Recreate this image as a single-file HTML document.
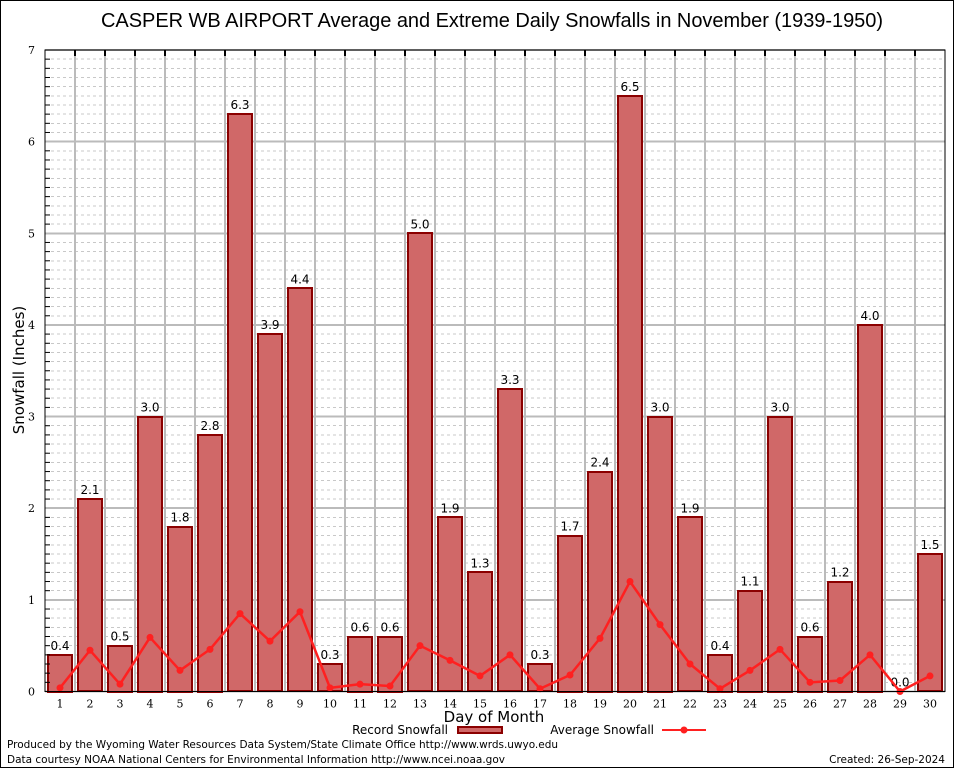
<!DOCTYPE html>
<html><head><meta charset="utf-8"><style>
body{margin:0;background:#fff}
svg text{font-family:"DejaVu Sans","Liberation Sans",sans-serif}
</style></head><body>
<svg id="c" width="954" height="768" xmlns="http://www.w3.org/2000/svg">
<rect x="0.5" y="0.5" width="953" height="767" fill="#fff" stroke="#000"/>
<text x="492" y="27" font-size="20" text-anchor="middle" textLength="782" style="font-family:'Liberation Sans',sans-serif">CASPER WB AIRPORT Average and Extreme Daily Snowfalls in November (1939-1950)</text>
<g id="grid" shape-rendering="crispEdges"></g>
<g id="bars"></g>
<g id="line"></g>
<rect x="45" y="50" width="900" height="641.5" fill="none" stroke="#000"/>
<g id="axes"></g>
<text x="24" y="370" font-size="15" text-anchor="middle" transform="rotate(-90 24 370)">Snowfall (Inches)</text>
<text x="494" y="722" font-size="15" text-anchor="middle">Day of Month</text>
<g>
<text x="448" y="734" font-size="12" text-anchor="end">Record Snowfall</text>
<rect x="458" y="727" width="44" height="6" fill="#d06868" stroke="#8b0000" stroke-width="2"/>
<text x="654" y="734" font-size="12" text-anchor="end">Average Snowfall</text>
<line x1="662" y1="730" x2="706" y2="730" stroke="#ff2020" stroke-width="2"/>
<circle cx="684" cy="730" r="3.5" fill="#ff2020"/>
</g>
<text x="7" y="748" font-size="10.5" textLength="551">Produced by the Wyoming Water Resources Data System/State Climate Office http://www.wrds.uwyo.edu</text>
<text x="7" y="763" font-size="10.5" textLength="498">Data courtesy NOAA National Centers for Environmental Information http://www.ncei.noaa.gov</text>
<text x="945" y="763" font-size="10.5" text-anchor="end">Created: 26-Sep-2024</text>
</svg>
<script>
const days = [1,2,3,4,5,6,7,8,9,10,11,12,13,14,15,16,17,18,19,20,21,22,23,24,25,26,27,28,29,30];
const recordSnow = [0.4,2.1,0.5,3.0,1.8,2.8,6.3,3.9,4.4,0.3,0.6,0.6,5.0,1.9,1.3,3.3,0.3,1.7,2.4,6.5,3.0,1.9,0.4,1.1,3.0,0.6,1.2,4.0,0.0,1.5];
const avgSnow = [0.04,0.45,0.08,0.59,0.23,0.46,0.85,0.55,0.87,0.04,0.08,0.06,0.5,0.34,0.17,0.4,0.03,0.18,0.58,1.2,0.73,0.3,0.03,0.23,0.46,0.1,0.12,0.4,0.0,0.17];
const yTicks = [0,1,2,3,4,5,6,7];

const NS='http://www.w3.org/2000/svg';
const L=45,R=945,T=50,B=691.5,YMAX=7;
const x=d=>L+(R-L)/days.length*(d-0.5);
const y=v=>B-(B-T)*v/YMAX;
function mk(tag,attrs,parent,txt){const e=document.createElementNS(NS,tag);for(const k in attrs)e.setAttribute(k,attrs[k]);if(txt!==undefined)e.textContent=txt;document.getElementById(parent).appendChild(e);return e;}
const bw=(R-L)/days.length;
for(let v=0.1;v<YMAX-0.001;v+=0.1){
  if(Math.abs(v-Math.round(v))<0.01)continue;
  const e=mk('line',{x1:L,x2:R,y1:y(v),y2:y(v),stroke:'#c8c8c8','stroke-dasharray':'3,3','stroke-width':1},'grid');
  
  
  const t=mk('line',{x1:L,x2:L+5,y1:y(v),y2:y(v),stroke:'#000'},'axes');
  
  
}
yTicks.forEach(v=>{
  const e=mk('line',{x1:L,x2:R,y1:y(v),y2:y(v),stroke:'#bbb','stroke-width':2},'grid');
  
  
  const t=mk('text',{x:L-10,y:y(v)+4,'font-size':11,'text-anchor':'end',style:'font-family:DejaVu Serif,serif'},'axes',String(v));
  
  
});
for(let i=1;i<days.length;i++){
  const xv=L+bw*i;
  const e=mk('line',{x1:xv,x2:xv,y1:T,y2:B,stroke:'#bbb','stroke-width':2},'grid');
  
  
  const t=mk('line',{x1:xv,x2:xv,y1:T,y2:T+6,stroke:'#000','stroke-width':2},'axes');
  
  
}
days.forEach((d,i)=>{
  const v=recordSnow[i];
  const cx=x(d);
  if(v>0){
    const r=mk('rect',{x:Math.round(cx-12),y:Math.round(y(v)),width:24,height:Math.round(B-y(v)),fill:'#d06868',stroke:'#8b0000','stroke-width':2},'bars');
    
    
  }
  const lb=mk('text',{x:cx,y:y(v)-5,'font-size':12,'text-anchor':'middle'},'bars',v.toFixed(1));
  
  
  const tl=mk('text',{x:cx,y:B+16,'font-size':11,'text-anchor':'middle',style:'font-family:DejaVu Serif,serif'},'axes',String(d));
  
  
});
const pts=days.map((d,i)=>x(d)+','+y(avgSnow[i])).join(' ');
const pl=mk('polyline',{points:pts,fill:'none',stroke:'#ff2020','stroke-width':2.5},'line');


days.forEach((d,i)=>{
  const c=mk('circle',{cx:x(d),cy:y(avgSnow[i]),r:3.5,fill:'#ff2020'},'line');
  
  
});
</script>
</body></html>
